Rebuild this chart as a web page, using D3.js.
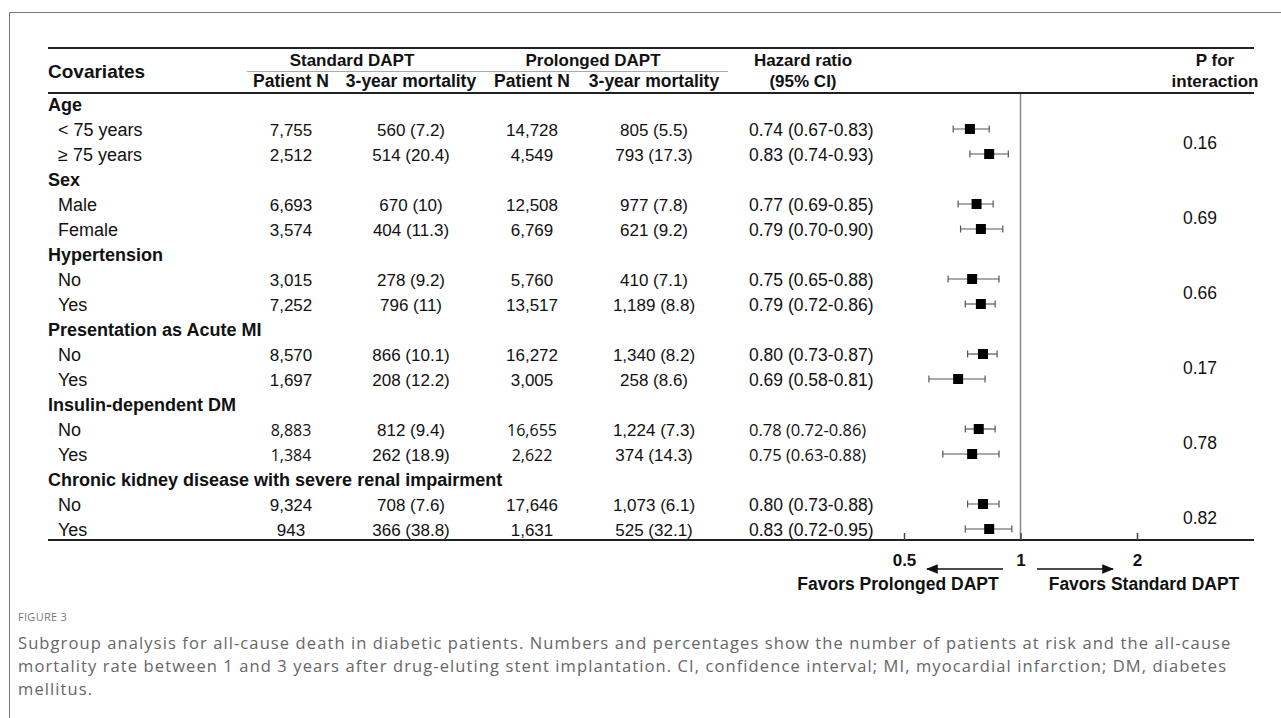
<!DOCTYPE html>
<html>
<head>
<meta charset="utf-8">
<script src="https://cdn.jsdelivr.net/npm/d3@7"></script>
<style>
  body { margin: 0; background: #fff; }
  svg { display: block; }
</style>
</head>
<body>
<div id="chart"></div>
<script>
// subgroup data
const groups = ["Age", "Sex", "Hypertension", "Presentation as Acute MI", "Insulin-dependent DM",
    "Chronic kidney disease with severe renal impairment"];
const subLabels = [["< 75 years", "≥ 75 years"], ["Male", "Female"], ["No", "Yes"],
    ["No", "Yes"], ["No", "Yes"], ["No", "Yes"]];
const stdN = ["7,755", "2,512", "6,693", "3,574", "3,015", "7,252", "8,570", "1,697", "8,883", "1,384", "9,324", "943"];
const stdMort = ["560 (7.2)", "514 (20.4)", "670 (10)", "404 (11.3)", "278 (9.2)", "796 (11)",
    "866 (10.1)", "208 (12.2)", "812 (9.4)", "262 (18.9)", "708 (7.6)", "366 (38.8)"];
const proN = ["14,728", "4,549", "12,508", "6,769", "5,760", "13,517", "16,272", "3,005", "16,655", "2,622", "17,646", "1,631"];
const proMort = ["805 (5.5)", "793 (17.3)", "977 (7.8)", "621 (9.2)", "410 (7.1)", "1,189 (8.8)",
    "1,340 (8.2)", "258 (8.6)", "1,224 (7.3)", "374 (14.3)", "1,073 (6.1)", "525 (32.1)"];
const hr = [0.74, 0.83, 0.77, 0.79, 0.75, 0.79, 0.80, 0.69, 0.78, 0.75, 0.80, 0.83];
const lo = [0.67, 0.74, 0.69, 0.70, 0.65, 0.72, 0.73, 0.58, 0.72, 0.63, 0.73, 0.72];
const hi = [0.83, 0.93, 0.85, 0.90, 0.88, 0.86, 0.87, 0.81, 0.86, 0.88, 0.88, 0.95];
const pInt = ["0.16", "0.69", "0.66", "0.17", "0.78", "0.82"];
const xTicks = [0.5, 1, 2];

const captionLines = [
    "Subgroup analysis for all-cause death in diabetic patients. Numbers and percentages show the number of patients at risk and the all-cause",
    "mortality rate between 1 and 3 years after drug-eluting stent implantation. CI, confidence interval; MI, myocardial infarction; DM, diabetes",
    "mellitus."
];

const width = 1281, height = 718;
const FONT = "'Liberation Sans', Arial, sans-serif";

let svg = d3.select("#chart")
    .append("svg")
    .attr("width", width)
    .attr("height", height)
    .style("font-family", FONT);

// outer frame (top + left only)
svg.append("path")
    .attr("d", `M9.5,${height} V12.5 H${width}`)
    .attr("fill", "none")
    .attr("stroke", "#777")
    .attr("stroke-width", 1);

// rows: group header followed by its two subgroups
let rows = [];
groups.forEach(function(g, gi) {
    rows.push({ type: "group", label: g });
    subLabels[gi].forEach(function(s, si) {
        rows.push({ type: "sub", label: s, i: gi * 2 + si, g: gi });
    });
});

let y = d3.scaleLinear()
    .domain([0, rows.length - 1])
    .range([104, 529]);

let x = d3.scaleLog()
    .domain([0.5, 2])
    .range([904, 1137]);

const tableLeft = 48, tableRight = 1254;
const col = { stdN: 291, stdMort: 411, proN: 532, proMort: 654, hr: 749, p: 1200 };

// header
let header = svg.append("g")
    .style("font-weight", "bold")
    .style("font-size", "17px")
    .attr("fill", "#111");

header.append("text").attr("x", tableLeft).attr("y", 78).style("font-size", "19px").text("Covariates");
header.append("text").attr("x", 352).attr("y", 66).attr("text-anchor", "middle").text("Standard DAPT");
header.append("text").attr("x", 593).attr("y", 66).attr("text-anchor", "middle").text("Prolonged DAPT");
header.append("text").attr("x", col.stdN).attr("y", 87).attr("text-anchor", "middle").style("font-size", "17.5px").text("Patient N");
header.append("text").attr("x", col.stdMort).attr("y", 87).attr("text-anchor", "middle").style("font-size", "17.5px").text("3-year mortality");
header.append("text").attr("x", col.proN).attr("y", 87).attr("text-anchor", "middle").style("font-size", "17.5px").text("Patient N");
header.append("text").attr("x", col.proMort).attr("y", 87).attr("text-anchor", "middle").style("font-size", "17.5px").text("3-year mortality");
header.append("text").attr("x", 803).attr("y", 66).attr("text-anchor", "middle").text("Hazard ratio");
header.append("text").attr("x", 803).attr("y", 87).attr("text-anchor", "middle").text("(95% CI)");
header.append("text").attr("x", 1215).attr("y", 66).attr("text-anchor", "middle").text("P for");
header.append("text").attr("x", 1215).attr("y", 87).attr("text-anchor", "middle").text("interaction");

// rules
svg.append("line")
    .attr("x1", tableLeft).attr("x2", tableRight).attr("y1", 48).attr("y2", 48)
    .attr("stroke", "#222").attr("stroke-width", 2);
svg.append("line")
    .attr("x1", 247).attr("x2", 728).attr("y1", 71.5).attr("y2", 71.5)
    .attr("stroke", "#aaa").attr("stroke-width", 1);
svg.append("line")
    .attr("x1", tableLeft).attr("x2", tableRight).attr("y1", 93).attr("y2", 93)
    .attr("stroke", "#222").attr("stroke-width", 2);

// body text
let body = svg.append("g")
    .style("font-size", "17px")
    .attr("fill", "#111");

let rowG = body.selectAll("g.row")
    .data(rows)
    .enter()
    .append("g")
    .attr("class", "row")
    .attr("transform", function(d, k) { return `translate(0, ${y(k) + 7})`; });

rowG.append("text")
    .attr("x", function(d) { return d.type == "group" ? tableLeft : 58; })
    .style("font-weight", function(d) { return d.type == "group" ? "bold" : "normal"; })
    .style("font-size", "18px")
    .text(function(d) { return d.label; });

let subG = rowG.filter(function(d) { return d.type == "sub"; });

// the DM rows use a different typeface for some cells in the original
function cellFont(d) { return d.g == 4 ? "'Open Sans', sans-serif" : null; }
function cellSize(d) { return d.g == 4 ? "16px" : null; }

subG.append("text").attr("x", col.stdN).attr("text-anchor", "middle")
    .style("font-family", cellFont).style("font-size", cellSize)
    .text(function(d) { return stdN[d.i]; });
subG.append("text").attr("x", col.stdMort).attr("text-anchor", "middle")
    .text(function(d) { return stdMort[d.i]; });
subG.append("text").attr("x", col.proN).attr("text-anchor", "middle")
    .style("font-family", cellFont).style("font-size", cellSize)
    .text(function(d) { return proN[d.i]; });
subG.append("text").attr("x", col.proMort).attr("text-anchor", "middle")
    .text(function(d) { return proMort[d.i]; });
subG.append("text").attr("x", col.hr)
    .style("font-family", cellFont)
    .style("font-size", function(d) { return d.g == 4 ? "16.5px" : "17.5px"; })
    .text(function(d) { return d3.format(".2f")(hr[d.i]) + " (" + d3.format(".2f")(lo[d.i]) + "-" + d3.format(".2f")(hi[d.i]) + ")"; });

// p for interaction, centred between the two subgroup rows
body.selectAll("text.p")
    .data(pInt)
    .enter()
    .append("text")
    .attr("class", "p")
    .attr("x", col.p)
    .attr("y", function(d, gi) { return (y(gi * 3 + 1) + y(gi * 3 + 2)) / 2 + 7; })
    .attr("text-anchor", "middle")
    .style("font-size", "17.5px")
    .text(function(d) { return d; });

// reference line at HR = 1
svg.append("line")
    .attr("x1", x(1)).attr("x2", x(1)).attr("y1", 94).attr("y2", 540)
    .attr("stroke", "#888").attr("stroke-width", 1.5);

// forest marks
let subRows = rows.map(function(d, k) { return Object.assign({ k: k }, d); })
    .filter(function(d) { return d.type == "sub"; });

let ci = svg.append("g").attr("stroke", "#555").attr("stroke-width", 1.2);
ci.selectAll("line.ci")
    .data(subRows)
    .enter()
    .append("line")
    .attr("x1", function(d) { return x(lo[d.i]); })
    .attr("x2", function(d) { return x(hi[d.i]); })
    .attr("y1", function(d) { return y(d.k); })
    .attr("y2", function(d) { return y(d.k); });
ci.selectAll("line.capl")
    .data(subRows)
    .enter()
    .append("line")
    .attr("x1", function(d) { return x(lo[d.i]); })
    .attr("x2", function(d) { return x(lo[d.i]); })
    .attr("y1", function(d) { return y(d.k) - 3.5; })
    .attr("y2", function(d) { return y(d.k) + 3.5; });
ci.selectAll("line.caph")
    .data(subRows)
    .enter()
    .append("line")
    .attr("x1", function(d) { return x(hi[d.i]); })
    .attr("x2", function(d) { return x(hi[d.i]); })
    .attr("y1", function(d) { return y(d.k) - 3.5; })
    .attr("y2", function(d) { return y(d.k) + 3.5; });

svg.selectAll("rect.hr")
    .data(subRows)
    .enter()
    .append("rect")
    .attr("x", function(d) { return x(hr[d.i]) - 5; })
    .attr("y", function(d) { return y(d.k) - 5; })
    .attr("width", 10)
    .attr("height", 10)
    .attr("fill", "#000");

// bottom rule doubles as the x axis
svg.append("line")
    .attr("x1", tableLeft).attr("x2", tableRight).attr("y1", 540).attr("y2", 540)
    .attr("stroke", "#222").attr("stroke-width", 2);

let axis = svg.append("g")
    .attr("transform", "translate(0, 540)")
    .call(d3.axisBottom(x).tickValues(xTicks).tickFormat(d3.format("")).tickSize(-7).tickPadding(14));
axis.select(".domain").remove();
axis.selectAll(".tick line").attr("stroke", "#444").attr("stroke-width", 1.5);
axis.selectAll(".tick text")
    .attr("fill", "#111")
    .style("font-family", FONT)
    .style("font-size", "17px")
    .style("font-weight", "bold");

// direction arrows
let defs = svg.append("defs");
defs.append("marker")
    .attr("id", "arrow")
    .attr("viewBox", "0 0 10 10")
    .attr("refX", 9).attr("refY", 5)
    .attr("markerWidth", 8).attr("markerHeight", 8)
    .attr("orient", "auto")
    .append("path")
    .attr("d", "M0,1 L10,5 L0,9 z")
    .attr("fill", "#111");

svg.append("line")
    .attr("x1", 1003).attr("x2", 927).attr("y1", 569).attr("y2", 569)
    .attr("stroke", "#111").attr("stroke-width", 1.5)
    .attr("marker-end", "url(#arrow)");
svg.append("line")
    .attr("x1", 1037).attr("x2", 1113).attr("y1", 569).attr("y2", 569)
    .attr("stroke", "#111").attr("stroke-width", 1.5)
    .attr("marker-end", "url(#arrow)");

svg.append("text")
    .attr("x", 898).attr("y", 590).attr("text-anchor", "middle")
    .style("font-size", "17.5px").style("font-weight", "bold").attr("fill", "#111")
    .text("Favors Prolonged DAPT");
svg.append("text")
    .attr("x", 1144).attr("y", 590).attr("text-anchor", "middle")
    .style("font-size", "17.5px").style("font-weight", "bold").attr("fill", "#111")
    .text("Favors Standard DAPT");

// caption
svg.append("text")
    .attr("x", 18).attr("y", 621)
    .style("font-family", "'Open Sans', sans-serif")
    .style("font-size", "11px")
    .style("letter-spacing", "0.3px")
    .attr("fill", "#777")
    .text("FIGURE 3");

svg.append("g")
    .selectAll("text")
    .data(captionLines)
    .enter()
    .append("text")
    .attr("x", 18)
    .attr("y", function(d, i) { return 649 + i * 23; })
    .style("font-family", "'Open Sans', sans-serif")
    .style("font-size", "16.5px")
    .style("letter-spacing", "1.1px")
    .attr("fill", "#666")
    .text(function(d) { return d; });
</script>
</body>
</html>
